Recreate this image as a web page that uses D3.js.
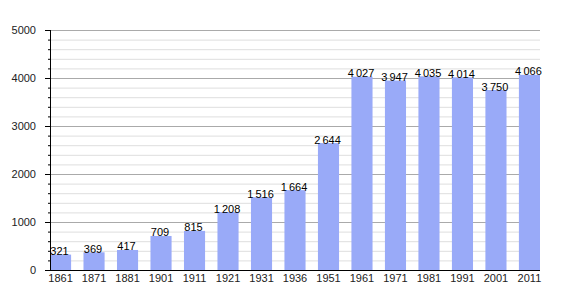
<!DOCTYPE html>
<html>
<head>
<meta charset="utf-8">
<script src="https://cdn.jsdelivr.net/npm/d3@7"></script>
<style>
  body { margin: 0; background: #fff; }
  text { font-family: "Liberation Sans", Arial, sans-serif; }
</style>
</head>
<body>
<div id="chart"></div>
<script>
// data
let years = ['1861', '1871', '1881', '1901', '1911', '1921', '1931', '1936', '1951', '1961', '1971', '1981', '1991', '2001', '2011'];
let population = [321, 369, 417, 709, 815, 1208, 1516, 1664, 2644, 4027, 3947, 4035, 4014, 3750, 4066];
let yTicks = [0, 1000, 2000, 3000, 4000, 5000];

let svgWidth = 570;
let svgHeight = 300;
let margin = { top: 30, right: 30, bottom: 30, left: 50 };
let width = 490;
let height = 240;

let svg = d3.select('#chart')
  .append('svg')
  .attr('width', svgWidth)
  .attr('height', svgHeight);

let chartGroup = svg.append('g')
  .attr('transform', `translate(${margin.left}, ${margin.top})`);

// scales
let xScale = d3.scaleBand()
  .domain(years)
  .range([0, width])
  .paddingInner(0.37)
  .paddingOuter(0)
  .align(0);

let yScale = d3.scaleLinear()
  .domain([0, 5000])
  .range([height, 0]);

// minor gridlines every 200
let minor = d3.range(200, 5001, 200).filter(v => v % 1000 !== 0);
chartGroup.selectAll('.minor')
  .data(minor)
  .enter()
  .append('line')
  .attr('x1', 0)
  .attr('x2', width)
  .attr('y1', d => yScale(d) + 0.5)
  .attr('y2', d => yScale(d) + 0.5)
  .attr('stroke', '#dedede')
  .attr('stroke-width', 1);

// major gridlines
chartGroup.selectAll('.major')
  .data(yTicks.filter(d => d > 0))
  .enter()
  .append('line')
  .attr('x1', 0)
  .attr('x2', width)
  .attr('y1', d => yScale(d) + 0.5)
  .attr('y2', d => yScale(d) + 0.5)
  .attr('stroke', '#aaaaaa')
  .attr('stroke-width', 1);

// bars
chartGroup.selectAll('rect')
  .data(population)
  .enter()
  .append('rect')
  .attr('x', (d, i) => xScale(years[i]))
  .attr('y', d => yScale(d))
  .attr('width', xScale.bandwidth())
  .attr('height', d => height - yScale(d))
  .attr('fill', '#99aaf8');

// value labels
let fmt = v => v >= 1000 ? d3.format(',')(v).replace(',', '\u2009') : String(v);
chartGroup.selectAll('.val')
  .data(population)
  .enter()
  .append('text')
  .attr('x', (d, i) => xScale(years[i]) + xScale.bandwidth() / 2 - 1)
  .attr('y', d => yScale(d) + 0.5)
  .attr('text-anchor', 'middle')
  .attr('font-size', 11)
  .attr('fill', '#000')
  .text(d => fmt(d));

// y axis with minor ticks
let leftAxis = d3.axisLeft(yScale)
  .tickValues(yTicks)
  .tickSize(5)
  .tickPadding(9)
  .tickFormat(d3.format('d'));

let yAxis = chartGroup.append('g').call(leftAxis);
yAxis.selectAll('text').attr('font-size', 11).attr('fill', '#222').style('font-family', '"Liberation Sans", Arial, sans-serif');
yAxis.select('.domain').remove();

chartGroup.selectAll('.mtick')
  .data(minor)
  .enter()
  .append('line')
  .attr('x1', -2)
  .attr('x2', 0)
  .attr('y1', d => yScale(d) + 0.5)
  .attr('y2', d => yScale(d) + 0.5)
  .attr('stroke', '#000');

chartGroup.append('line')
  .attr('x1', 0.5).attr('x2', 0.5)
  .attr('y1', 0).attr('y2', height)
  .attr('stroke', '#000');

// x axis
let bottomAxis = d3.axisBottom(xScale).tickSize(0).tickPadding(4);
let xAxis = chartGroup.append('g')
  .attr('transform', `translate(0, ${height})`)
  .call(bottomAxis);
xAxis.selectAll('text').attr('font-size', 11).attr('fill', '#222').style('font-family', '"Liberation Sans", Arial, sans-serif');
xAxis.select('.domain').remove();

chartGroup.append('line')
  .attr('x1', 0).attr('x2', width)
  .attr('y1', height + 0.5).attr('y2', height + 0.5)
  .attr('stroke', '#000');
</script>
</body>
</html>
